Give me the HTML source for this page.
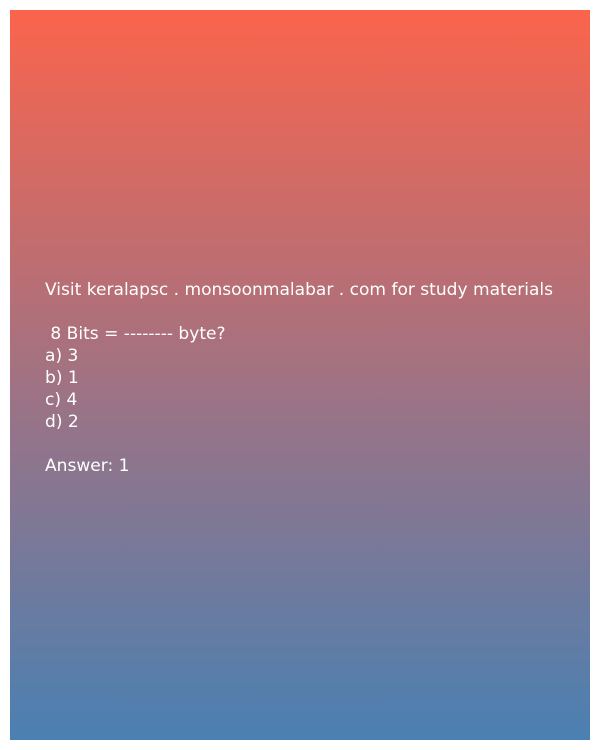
<!DOCTYPE html>
<html><head><meta charset="utf-8"><style>
html,body{margin:0;padding:0;background:#fff;width:600px;height:750px;overflow:hidden}
#card{position:absolute;left:10px;top:10px;width:580px;height:730px;background:linear-gradient(to bottom,#fb644c 0%,#a27282 50%,#4a80b2 100%)}
.t{position:absolute;left:35px;color:#fff;font-family:"DejaVu Sans","Liberation Sans",sans-serif;font-size:17.06px;line-height:22px;white-space:pre;letter-spacing:0}
</style></head><body>
<div id="card">
<div class="t" style="top:269px">Visit keralapsc . monsoonmalabar . com for study materials</div>
<div class="t" style="top:313px"> 8 Bits = -------- byte?</div>
<div class="t" style="top:335px">a) 3</div>
<div class="t" style="top:357px">b) 1</div>
<div class="t" style="top:379px">c) 4</div>
<div class="t" style="top:401px">d) 2</div>
<div class="t" style="top:445px">Answer: 1</div>
</div>
</body></html>
